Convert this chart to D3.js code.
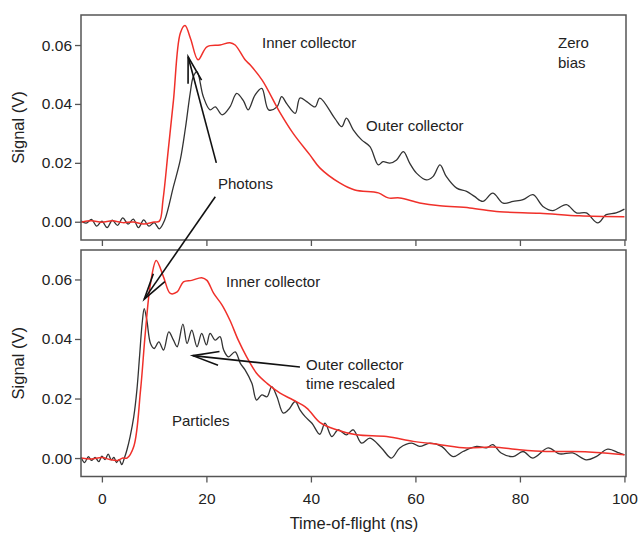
<!DOCTYPE html>
<html>
<head>
<meta charset="utf-8">
<script src="https://cdn.jsdelivr.net/npm/d3@7"></script>
<style>
  body { margin: 0; background: #fff; }
  text { font-family: "Liberation Sans", Arial, sans-serif; fill: #222; }
</style>
</head>
<body>
<svg id="chart" width="640" height="533"></svg>
<script>
// time-of-flight (ns) and signal (V)
var topInnerT = [-4,-2,0,2,4,6,8,10,11,11.7,12.7,13.7,15,15.9,17,18.4,20.1,22.6,24.5,25.5,27.4,28.4,30.7,34,36.6,39.8,41.7,45.5,48.4,52.9,54.8,57,60.8,64.7,70.4,76.1,83.8,91.4,100];
var topInnerV = [-0.0002,0.0003,-0.0002,0.0003,-0.0003,-0.0001,-0.0008,-0.0001,0.0002,0.0075,0.0244,0.0413,0.064,0.0666,0.062,0.055,0.0594,0.060,0.0608,0.060,0.055,0.0532,0.048,0.0373,0.030,0.0227,0.0183,0.0132,0.0108,0.0098,0.0081,0.0081,0.0064,0.0054,0.0047,0.0034,0.0029,0.002,0.0017];

var topOuterT = [-4,-3,-2,-1,0,1,2,3,4,5,6,7,8,9,10,11,12,13.7,15,16,16.9,17.5,18.2,19.4,20.7,21.7,23,24.5,25.8,27.1,28,29.3,30.6,31.9,33.5,34.4,35.4,37,37.9,39.2,40.8,41.7,44.6,45.9,46.8,48.1,49.7,51.3,52.9,53.8,55.1,56.4,57.7,58.9,60.2,62.1,63.4,64.7,65.9,67.9,69.8,71.3,72.9,74.8,76.8,78.7,80.6,82.5,84.4,86.3,88.9,90.8,92.7,94.9,96.5,98.4,100];
var topOuterV = [0.0003,-0.0005,0.0008,-0.0015,0.0002,-0.002,0.0005,-0.0012,0.0013,-0.0008,0.0009,-0.002,0.0006,-0.0015,-0.0003,-0.0024,0.0005,0.012,0.021,0.032,0.0437,0.0493,0.051,0.0425,0.038,0.039,0.0363,0.039,0.0436,0.041,0.038,0.043,0.0453,0.038,0.039,0.0425,0.040,0.0368,0.042,0.0408,0.039,0.042,0.035,0.0323,0.0352,0.0312,0.0278,0.0255,0.0193,0.0204,0.0199,0.021,0.0238,0.0199,0.0165,0.0142,0.0154,0.0193,0.0154,0.0114,0.0103,0.0086,0.0069,0.0097,0.0063,0.0069,0.0075,0.0092,0.0052,0.0038,0.0058,0.003,0.003,-0.0004,0.0024,0.003,0.0043];

var botInnerT = [-4,-2,0,1.5,3,4,4.8,6.1,7.4,8.3,9.3,10.4,11.8,13.1,14.4,15.6,17.2,19.1,20.1,21.4,23,24.5,26.1,27.7,29.6,31.6,34.1,36.6,39.2,41.7,44.9,48.7,54.5,59.6,64.7,69.8,74.8,79.9,85,90.1,94.6,100];
var botInnerV = [0.0,-0.0003,0.0002,-0.0005,-0.0008,0.0,0.0,0.0039,0.0229,0.0419,0.0586,0.0664,0.0608,0.0553,0.0558,0.0592,0.0597,0.0606,0.0597,0.0553,0.0514,0.0463,0.0396,0.034,0.0285,0.0251,0.0218,0.0195,0.0168,0.012,0.0095,0.0078,0.0072,0.0056,0.0045,0.0034,0.0037,0.0028,0.0022,0.0022,0.0019,0.0011];

var botOuterT = [-4,-3.3,-2.6,-2,-1.3,-0.6,0,0.6,1.2,1.8,2.3,2.8,3.3,3.8,4.3,4.8,5.4,6.1,6.7,7.2,7.7,8.1,8.6,9.3,10,10.9,11.8,12.8,13.7,14.4,15.5,16.3,17.2,18.2,19.1,20,20.7,21.7,22.6,23.3,24.2,25.5,26.5,27.4,28.7,29.6,30.6,31.6,32.5,33.5,34.7,35.7,37,37.9,38.9,40.2,41.7,42.7,44,45.2,46.8,48.1,49.7,51.3,53.5,55.4,57,59.3,60.8,62.8,65,67.2,69.1,71.7,73.6,74.8,76.4,78.7,80.6,82.5,85.4,87.6,90.1,92.7,94.6,96.8,99,100];
var botOuterV = [0.0003,-0.0015,0.0005,-0.0008,0.0002,-0.0012,0.0006,-0.0005,0.0013,-0.0006,0.0002,-0.0015,-0.0005,-0.0022,0.0,0.0028,0.0072,0.0139,0.0229,0.034,0.0452,0.0502,0.0463,0.0385,0.0368,0.039,0.0363,0.0424,0.0396,0.0374,0.045,0.0385,0.043,0.0374,0.0419,0.038,0.0419,0.0396,0.0408,0.0363,0.034,0.0357,0.0318,0.0296,0.0251,0.0195,0.0212,0.0206,0.024,0.0206,0.0151,0.0162,0.019,0.0162,0.0139,0.0117,0.008,0.0117,0.0072,0.0095,0.0078,0.0095,0.005,0.0067,0.0034,0.0,0.0034,0.005,0.0039,0.005,0.0039,0.0005,0.0022,0.0039,0.0034,0.0045,0.0017,0.0005,0.0022,0.0,0.0034,0.0014,0.0017,-0.0006,0.0005,0.003,0.0017,0.0011];

var xTicks = [0,20,40,60,80,100];
var yTicks = [0.00,0.02,0.04,0.06];

var svg = d3.select("#chart");

var x = d3.scaleLinear().domain([-4.0, 100.3]).range([81, 626]);
var yTop = d3.scaleLinear().domain([-0.0062, 0.0702]).range([240, 15]);
var yBot = d3.scaleLinear().domain([-0.0062, 0.0699]).range([476.5, 250]);

function zip(t, v) { return t.map(function(d, i) { return [d, v[i]]; }); }

function drawPanel(y, inner, outer, showLabels) {
  var g = svg.append("g");
  var line = d3.line()
      .x(function(d) { return x(d[0]); })
      .y(function(d) { return y(d[1]); })
      .curve(d3.curveCatmullRom.alpha(0.5));

  g.append("path").datum(outer)
      .attr("fill", "none").attr("stroke", "#333").attr("stroke-width", 1.3)
      .attr("d", line);
  g.append("path").datum(inner)
      .attr("fill", "none").attr("stroke", "#f0302a").attr("stroke-width", 1.5)
      .attr("d", line);

  // frame
  g.append("rect")
      .attr("x", x.range()[0]).attr("y", y.range()[1])
      .attr("width", x.range()[1] - x.range()[0])
      .attr("height", y.range()[0] - y.range()[1])
      .attr("fill", "none").attr("stroke", "#555").attr("stroke-width", 1.5);

  var ya = g.append("g").attr("transform", "translate(" + x.range()[0] + ",0)")
      .call(d3.axisLeft(y).tickValues(yTicks).tickSize(6).tickPadding(3).tickFormat(d3.format(".2f")));
  ya.select(".domain").remove();
  ya.selectAll("line").attr("stroke", "#555").attr("stroke-width", 1.3);
  ya.selectAll("text").style("font-size", "15.5px").attr("fill", "#222");

  var xa = g.append("g").attr("transform", "translate(0," + y.range()[0] + ")")
      .call(d3.axisBottom(x).tickValues(xTicks).tickSize(6).tickPadding(10)
        .tickFormat(showLabels ? d3.format("d") : ""));
  xa.select(".domain").remove();
  xa.selectAll("line").attr("stroke", "#555").attr("stroke-width", 1.3);
  xa.selectAll("text").style("font-size", "15.5px").attr("fill", "#222");

  svg.append("text")
      .attr("transform", "translate(24," + (y.range()[0] + y.range()[1]) / 2 + ") rotate(-90)")
      .attr("text-anchor", "middle")
      .style("font-size", "16.5px")
      .text("Signal (V)");
}

drawPanel(yTop, zip(topInnerT, topInnerV), zip(topOuterT, topOuterV), false);
drawPanel(yBot, zip(botInnerT, botInnerV), zip(botOuterT, botOuterV), true);

svg.append("text")
    .attr("x", 354).attr("y", 529)
    .attr("text-anchor", "middle")
    .style("font-size", "16.5px")
    .text("Time-of-flight (ns)");

// annotations
function label(txt, px, py) {
  svg.append("text").attr("x", px).attr("y", py).style("font-size", "15px").text(txt);
}
label("Inner collector", 262, 48);
label("Zero", 558, 48);
label("bias", 558, 68);
label("Outer collector", 366, 131);
label("Photons", 218, 189);
label("Inner collector", 226, 287);
label("Outer collector", 306, 370);
label("time rescaled", 306, 389);
label("Particles", 172, 426);

// arrows: tail and head positions as [t, v, panel]
var arrowTail = [[21.9, 0.020, "top"], [21.7, 0.0085, "top"], [37.9, 0.0306, "bot"]];
var arrowHead = [[16.5, 0.056, "top"], [8.1, 0.0534, "bot"], [17.4, 0.0344, "bot"]];

function pt(p) { return [x(p[0]), (p[2] == "top" ? yTop : yBot)(p[1])]; }

var ag = svg.append("g").attr("stroke", "#111").attr("stroke-width", 1.6).attr("fill", "none");
arrowTail.forEach(function(tail, i) {
  var a = pt(tail), b = pt(arrowHead[i]);
  var ang = Math.atan2(a[1] - b[1], a[0] - b[0]);
  var len = 27, spread = 15 * Math.PI / 180;
  ag.append("line").attr("x1", a[0]).attr("y1", a[1]).attr("x2", b[0]).attr("y2", b[1]);
  ag.append("path").attr("d",
      "M" + (b[0] + len * Math.cos(ang - spread)) + "," + (b[1] + len * Math.sin(ang - spread)) +
      "L" + b[0] + "," + b[1] +
      "L" + (b[0] + len * Math.cos(ang + spread)) + "," + (b[1] + len * Math.sin(ang + spread)));
});
</script>
</body>
</html>
